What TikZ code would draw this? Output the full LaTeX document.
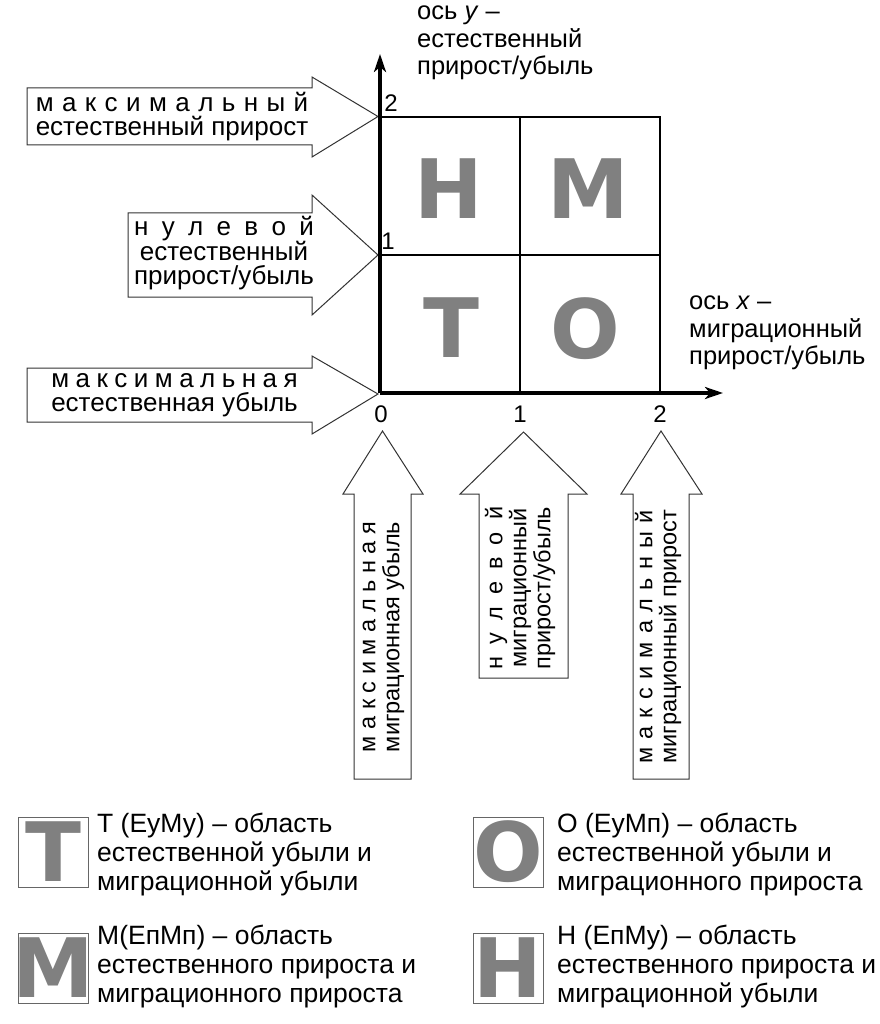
\documentclass[tikz,border=0pt]{standalone}
\usepackage{fontspec}
\setmainfont{Liberation Sans}
\newfontfamily\bigfont{DejaVu Sans}
\usetikzlibrary{arrows.meta}
\definecolor{lgray}{HTML}{808080}
\definecolor{edge}{HTML}{333333}
\newlength\spreadw
\newcommand\spreadline[2]{\settowidth{\spreadw}{#1}\makebox[\spreadw][s]{#2}}
\begin{document}
\begin{tikzpicture}[x=1pt,y=-1pt,
  blk/.style={draw=edge,line width=1pt,fill=white,line join=miter},
  arrtext/.style={inner sep=0pt,align=center,font=\fontsize{26}{24}\selectfont},
  rottext/.style={inner sep=0pt,align=center,rotate=90,font=\fontsize{23.5}{24}\selectfont},
  axlabel/.style={inner sep=0pt,align=left,anchor=west,font=\fontsize{25.5}{27.5}\selectfont},
  legtext/.style={inner sep=0pt,align=left,anchor=west,font=\fontsize{26.5}{29}\selectfont},
  tick/.style={inner sep=0pt,font=\fontsize{24}{24}\selectfont},
  bigl/.style={inner sep=0pt,text=lgray,font=\bigfont\bfseries\fontsize{82}{82}\selectfont},
  legbox/.style={draw=black!60,line width=1pt},
  gridl/.style={line width=2pt,black},
  axis/.style={line width=3.3pt,black,-{Stealth[length=18pt,width=12pt,inset=5pt]}}]
\useasboundingbox (0,0) rectangle (879,1024);

% left block arrows
\draw[blk] (27,88) -- (312,88) -- (312,77) -- (378,116.5) -- (312,157) -- (312,145) -- (27,145) -- cycle;
\draw[blk] (128,213) -- (312,213) -- (312,195) -- (378,255) -- (312,315) -- (312,297) -- (128,297) -- cycle;
\draw[blk] (27,368) -- (312,368) -- (312,356) -- (378,394) -- (312,434) -- (312,422) -- (27,422) -- cycle;

\node[arrtext] (l1) at (172,117) {\spreadline{естественный прирост}{м а к с и м а л ь н ы й}\\естественный прирост};
\node[arrtext] (l2) at (224,253) {\spreadline{прирост/убыль}{н у л е в о й}\\естественный\\прирост/убыль};
\node[arrtext] (l3) at (174.5,395) {\spreadline{естественная убыль}{м а к с и м а л ь н а я}\\естественная убыль};

% bottom block arrows
\draw[blk] (354,779) -- (354,494) -- (343,494) -- (382.5,431) -- (423,494) -- (411,494) -- (411,779) -- cycle;
\draw[blk] (479,678) -- (479,494) -- (460,494) -- (523.5,432) -- (587,494) -- (568,494) -- (568,678) -- cycle;
\draw[blk] (633,779) -- (633,494) -- (621,494) -- (661,431) -- (702,494) -- (689,494) -- (689,779) -- cycle;

\node[rottext] (b1) at (383.5,637) {\spreadline{миграционная убыль}{м а к с и м а л ь н а я}\\миграционная убыль};
\node[rottext] (b2) at (520,588) {\spreadline{прирост/убыль}{н у л е в о й}\\миграционный\\прирост/убыль};
\node[rottext] (b3) at (658,637) {\spreadline{миграционный прирост}{м а к с и м а л ь н ы й}\\миграционный прирост};

% grid
\coordinate (o) at (380,393);
\coordinate (tl) at (380,117);
\coordinate (tm) at (520,117);
\coordinate (tr) at (660,117);
\coordinate (ml) at (380,255);
\coordinate (mr) at (660,255);
\coordinate (bm) at (520,393);
\coordinate (br) at (660,393);
\coordinate (xe) at (723,393);
\coordinate (ye) at (380,54);
\draw[gridl] (tl) -- (tr) -- (br);
\draw[gridl] (tm) -- (bm);
\draw[gridl] (ml) -- (mr);
\draw[axis] (o) -- (xe);
\draw[axis] (o) -- (ye);

% cell letters
\node[bigl] (cH) at (449,189) {Н};
\node[bigl] (cM) at (588,189) {М};
\node[bigl] (cT) at (451,328) {Т};
\node[bigl] (cO) at (585,329) {О};

% ticks
\node[tick] (ty2) at (391,103.5) {2};
\node[tick] (ty1) at (388,241) {1};
\node[tick] (tx0) at (381,414) {0};
\node[tick] (tx1) at (520,414) {1};
\node[tick] (tx2) at (660,414) {2};

% axis labels
\node[axlabel] (ly) at (417,43) {ось \textit{y} –\\естественный\\прирост/убыль};
\node[axlabel] (lx) at (689,333) {ось \textit{x} –\\миграционный\\прирост/убыль};

% legend
\draw[legbox] (18,817) rectangle (88,887);
\node[bigl] (gT) at (53,852) {Т};
\node[legtext] (tT) at (97,855) {Т (ЕуМу) – область\\естественной убыли и\\миграционной убыли};
\draw[legbox] (18,933) rectangle (88,1003);
\node[bigl] (gM) at (53,968) {М};
\node[legtext] (tM) at (97,967) {М(ЕпМп) – область\\естественного прироста и\\миграционного прироста};
\draw[legbox] (473,817) rectangle (543,887);
\node[bigl] (gO) at (508,852) {О};
\node[legtext] (tO) at (557,855) {О (ЕуМп) – область\\естественной убыли и\\миграционного прироста};
\draw[legbox] (473,933) rectangle (543,1003);
\node[bigl] (gH) at (508,968) {Н};
\node[legtext] (tH) at (557,967) {Н (ЕпМу) – область\\естественного прироста и\\миграционной убыли};
\end{tikzpicture}
\end{document}
